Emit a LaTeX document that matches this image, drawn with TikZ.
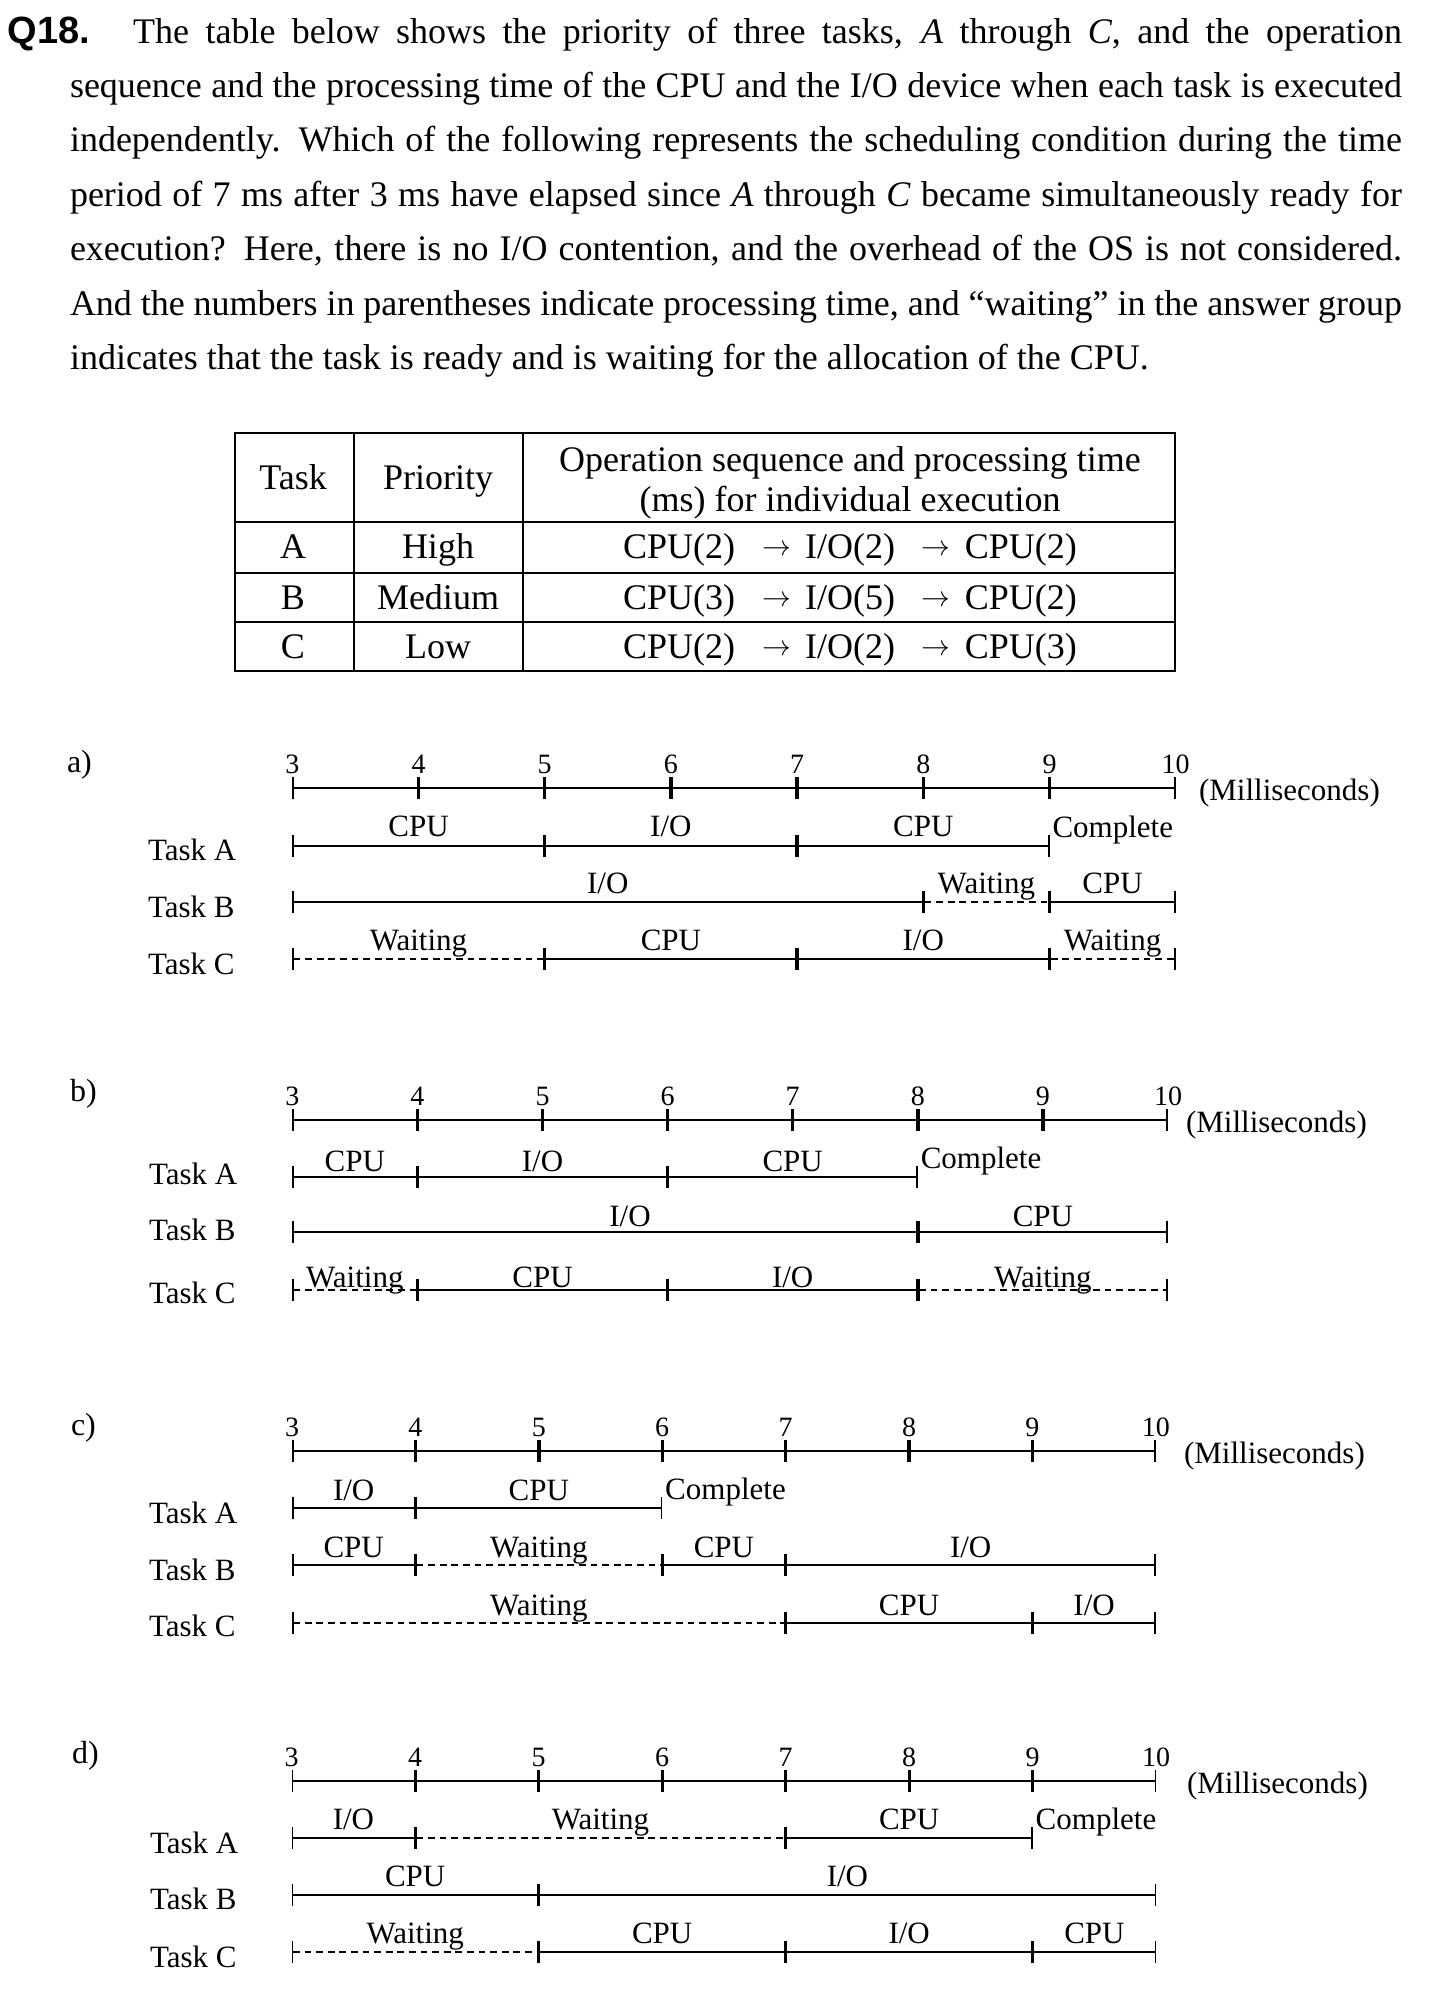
\documentclass[tikz,border=0pt]{standalone}
\usepackage{fontspec}
\setmainfont{Liberation Serif}
\newfontfamily\qfont{Liberation Sans}
\usetikzlibrary{arrows.meta}

\newcommand\tlfont{\fontsize{15.5}{18}\selectfont}
\newcommand\opseq[3]{CPU(#1)\hspace{13.5pt}\raisebox{1.5pt}{\fontsize{15}{15}\selectfont$\rightarrow$}\hspace{7pt}I/O(#2)\hspace{13.5pt}\raisebox{1.5pt}{\fontsize{15}{15}\selectfont$\rightarrow$}\hspace{7pt}CPU(#3)}

\begin{document}
\begin{tikzpicture}[
  x=0.5pt, y=-0.5pt,
  every node/.style={inner sep=0pt, outer sep=0pt},
  seg/.style={{Bar[width=11pt]}-{Bar[width=11pt]}, line width=0.85pt},
  wait/.style={seg, dash pattern=on 3.4pt off 2.4pt},
  lbl/.style={anchor=base, yshift=#1, font=\tlfont},
  lbl/.default=4.5pt,
  num/.style={anchor=base, yshift=7.5pt, font=\fontsize{14}{16}\selectfont},
  task/.style={anchor=base west, font=\tlfont},
  done/.style={anchor=base west, xshift=1.5pt, yshift=4.3pt, font=\tlfont},
  unit/.style={anchor=base west, font=\tlfont},
  panel/.style={anchor=base west, font=\fontsize{16}{18}\selectfont},
  cell/.style={anchor=base, font=\fontsize{18}{20}\selectfont},
  rule/.style={line width=1pt}
]
\useasboundingbox (0,0) rectangle (1450,1997);

% Question
\node[anchor=base west, font=\qfont\bfseries\fontsize{19}{21}\selectfont] (qnum) at (7.5,43) {Q18.};
\node[anchor=base west, text width=666pt, align=justify,
      font=\fontsize{18}{27.2}\selectfont] (question) at (70,43) {%
  \tolerance=10000\hbadness=10000
  \hspace*{31.6pt}The table below shows the priority of three tasks, \textit{A} through \textit{C}, and the operation\linebreak
  sequence and the processing time of the CPU and the I/O device when each task is executed\linebreak
  independently. Which of the following represents the scheduling condition during the time\linebreak
  period of 7 ms after 3 ms have elapsed since \textit{A} through \textit{C} became simultaneously ready for\linebreak
  execution? Here, there is no I/O contention, and the overhead of the OS is not considered.\linebreak
  And the numbers in parentheses indicate processing time, and “waiting” in the answer group\linebreak
  indicates that the task is ready and is waiting for the allocation of the CPU.\par};

% Table
\draw[rule] (235,433) rectangle (1175,671);
\draw[rule] (354.4,433) -- (354.4,671) (523.4,433) -- (523.4,671);
\foreach \y in {522,573,622} \draw[rule] (235,\y) -- (1175,\y);

\node[cell] (hd-task) at (293,489.5) {Task};
\node[cell] (hd-prio) at (438,489.5) {Priority};
\node[cell] (hd-op1) at (850,471.5) {Operation sequence and processing time};
\node[cell] (hd-op2) at (850,511) {(ms) for individual execution};

\node[cell] (tA) at (293,558.5) {A};
\node[cell] (pA) at (438,558.5) {High};
\node[cell] (oA) at (850,558.5) {\opseq{2}{2}{2}};
\node[cell] (tB) at (293,609) {B};
\node[cell] (pB) at (438,609) {Medium};
\node[cell] (oB) at (850,609) {\opseq{3}{5}{2}};
\node[cell] (tC) at (293,658.5) {C};
\node[cell] (pC) at (438,658.5) {Low};
\node[cell] (oC) at (850,658.5) {\opseq{2}{2}{3}};

% Panel a)
\foreach \t in {3,...,10} {
  \coordinate (a\t)  at ({292.3+(\t-3)*126.2},788.3);
  \coordinate (aA\t) at ({292.3+(\t-3)*126.2},845.7);
  \coordinate (aB\t) at ({292.3+(\t-3)*126.2},902.3);
  \coordinate (aC\t) at ({292.3+(\t-3)*126.2},959.3);
}
\node[panel] (a-lbl) at (67,772) {a)};
\foreach \t in {4,...,10} {
  \pgfmathtruncatemacro\tprev{\t-1}
  \draw[seg] (a\tprev) -- (a\t);
}
\foreach \t in {3,...,10} \node[num] (a-n\t) at (a\t) {\t};
\node[unit] (a-ms) at (1199,800.3) {(Milliseconds)};

\node[task] (a-ta) at (148,860) {Task A};
\node[task] (a-tb) at (148,917.7) {Task B};
\node[task] (a-tc) at (148,974.5) {Task C};

\draw[seg]  (aA3) -- node[lbl] (aA-l1) {CPU} (aA5);
\draw[seg]  (aA5) -- node[lbl] (aA-l2) {I/O} (aA7);
\draw[seg]  (aA7) -- node[lbl] (aA-l3) {CPU} (aA9);
\node[done] (aA-done) at (aA9) {Complete};

\draw[seg]  (aB3) -- node[lbl] (aB-l1) {I/O} (aB8);
\draw[wait] (aB8) -- node[lbl] (aB-l2) {Waiting} (aB9);
\draw[seg]  (aB9) -- node[lbl] (aB-l3) {CPU} (aB10);

\draw[wait] (aC3) -- node[lbl] (aC-l1) {Waiting} (aC5);
\draw[seg]  (aC5) -- node[lbl] (aC-l2) {CPU} (aC7);
\draw[seg]  (aC7) -- node[lbl] (aC-l3) {I/O} (aC9);
\draw[wait] (aC9) -- node[lbl] (aC-l4) {Waiting} (aC10);

% Panel b)
\foreach \t in {3,...,10} {
  \coordinate (b\t)  at ({292.3+(\t-3)*125.1},1120);
  \coordinate (bA\t) at ({292.3+(\t-3)*125.1},1176.7);
  \coordinate (bB\t) at ({292.3+(\t-3)*125.1},1231.7);
  \coordinate (bC\t) at ({292.3+(\t-3)*125.1},1290);
}
\node[panel] (b-lbl) at (70,1101.7) {b)};
\foreach \t in {4,...,10} {
  \pgfmathtruncatemacro\tprev{\t-1}
  \draw[seg] (b\tprev) -- (b\t);
}
\foreach \t in {3,...,10} \node[num] (b-n\t) at (b\t) {\t};
\node[unit] (b-ms) at (1186,1132) {(Milliseconds)};

\node[task] (b-ta) at (149,1184) {Task A};
\node[task] (b-tb) at (149,1240.7) {Task B};
\node[task] (b-tc) at (149,1303) {Task C};

\begin{scope}[lbl/.default=2.5pt]
\draw[seg]  (bA3) -- node[lbl] (bA-l1) {CPU} (bA4);
\draw[seg]  (bA4) -- node[lbl] (bA-l2) {I/O} (bA6);
\draw[seg]  (bA6) -- node[lbl] (bA-l3) {CPU} (bA8);
\node[done] (bA-done) at (bA8) {Complete};

\draw[seg]  (bB3) -- node[lbl, pos=0.54] (bB-l1) {I/O} (bB8);
\draw[seg]  (bB8) -- node[lbl] (bB-l2) {CPU} (bB10);
\end{scope}

\begin{scope}[lbl/.default=1.2pt]
\draw[wait] (bC3) -- node[lbl] (bC-l1) {Waiting} (bC4);
\draw[seg]  (bC4) -- node[lbl] (bC-l2) {CPU} (bC6);
\draw[seg]  (bC6) -- node[lbl] (bC-l3) {I/O} (bC8);
\draw[wait] (bC8) -- node[lbl] (bC-l4) {Waiting} (bC10);
\end{scope}

% Panel c)
\foreach \t in {3,...,10} {
  \coordinate (c\t)  at ({292+(\t-3)*123.4},1451);
  \coordinate (cA\t) at ({292+(\t-3)*123.4},1508);
  \coordinate (cB\t) at ({292+(\t-3)*123.4},1565);
  \coordinate (cC\t) at ({292+(\t-3)*123.4},1622.7);
}
\node[panel] (c-lbl) at (71,1435) {c)};
\foreach \t in {4,...,10} {
  \pgfmathtruncatemacro\tprev{\t-1}
  \draw[seg] (c\tprev) -- (c\t);
}
\foreach \t in {3,...,10} \node[num] (c-n\t) at (c\t) {\t};
\node[unit] (c-ms) at (1184,1463) {(Milliseconds)};

\node[task] (c-ta) at (149,1523) {Task A};
\node[task] (c-tb) at (149,1580) {Task B};
\node[task] (c-tc) at (149,1636) {Task C};

\begin{scope}[lbl/.default=3.75pt]
\draw[seg]  (cA3) -- node[lbl] (cA-l1) {I/O} (cA4);
\draw[seg]  (cA4) -- node[lbl] (cA-l2) {CPU} (cA6);
\node[done] (cA-done) at (cA6) {Complete};

\draw[seg]  (cB3) -- node[lbl] (cB-l1) {CPU} (cB4);
\draw[wait] (cB4) -- node[lbl] (cB-l2) {Waiting} (cB6);
\draw[seg]  (cB6) -- node[lbl] (cB-l3) {CPU} (cB7);
\draw[seg]  (cB7) -- node[lbl] (cB-l4) {I/O} (cB10);

\draw[wait] (cC3) -- node[lbl] (cC-l1) {Waiting} (cC7);
\draw[seg]  (cC7) -- node[lbl] (cC-l2) {CPU} (cC9);
\draw[seg]  (cC9) -- node[lbl] (cC-l3) {I/O} (cC10);
\end{scope}

% Panel d)
\foreach \t in {3,...,10} {
  \coordinate (d\t)  at ({291.7+(\t-3)*123.5},1781);
  \coordinate (dA\t) at ({291.7+(\t-3)*123.5},1838);
  \coordinate (dB\t) at ({291.7+(\t-3)*123.5},1895.3);
  \coordinate (dC\t) at ({291.7+(\t-3)*123.5},1952);
}
\node[panel] (d-lbl) at (72,1763.7) {d)};
\foreach \t in {4,...,10} {
  \pgfmathtruncatemacro\tprev{\t-1}
  \draw[seg] (d\tprev) -- (d\t);
}
\foreach \t in {3,...,10} \node[num] (d-n\t) at (d\t) {\t};
\node[unit] (d-ms) at (1187,1793) {(Milliseconds)};

\node[task] (d-ta) at (150,1853) {Task A};
\node[task] (d-tb) at (150,1909.7) {Task B};
\node[task] (d-tc) at (150,1967.7) {Task C};

\begin{scope}[lbl/.default=4.25pt]
\draw[seg]  (dA3) -- node[lbl] (dA-l1) {I/O} (dA4);
\draw[wait] (dA4) -- node[lbl] (dA-l2) {Waiting} (dA7);
\draw[seg]  (dA7) -- node[lbl] (dA-l3) {CPU} (dA9);
\node[done] (dA-done) at (dA9) {Complete};

\draw[seg]  (dB3) -- node[lbl] (dB-l1) {CPU} (dB5);
\draw[seg]  (dB5) -- node[lbl] (dB-l2) {I/O} (dB10);

\draw[wait] (dC3) -- node[lbl] (dC-l1) {Waiting} (dC5);
\draw[seg]  (dC5) -- node[lbl] (dC-l2) {CPU} (dC7);
\draw[seg]  (dC7) -- node[lbl] (dC-l3) {I/O} (dC9);
\draw[seg]  (dC9) -- node[lbl] (dC-l4) {CPU} (dC10);
\end{scope}

\end{tikzpicture}
\end{document}
